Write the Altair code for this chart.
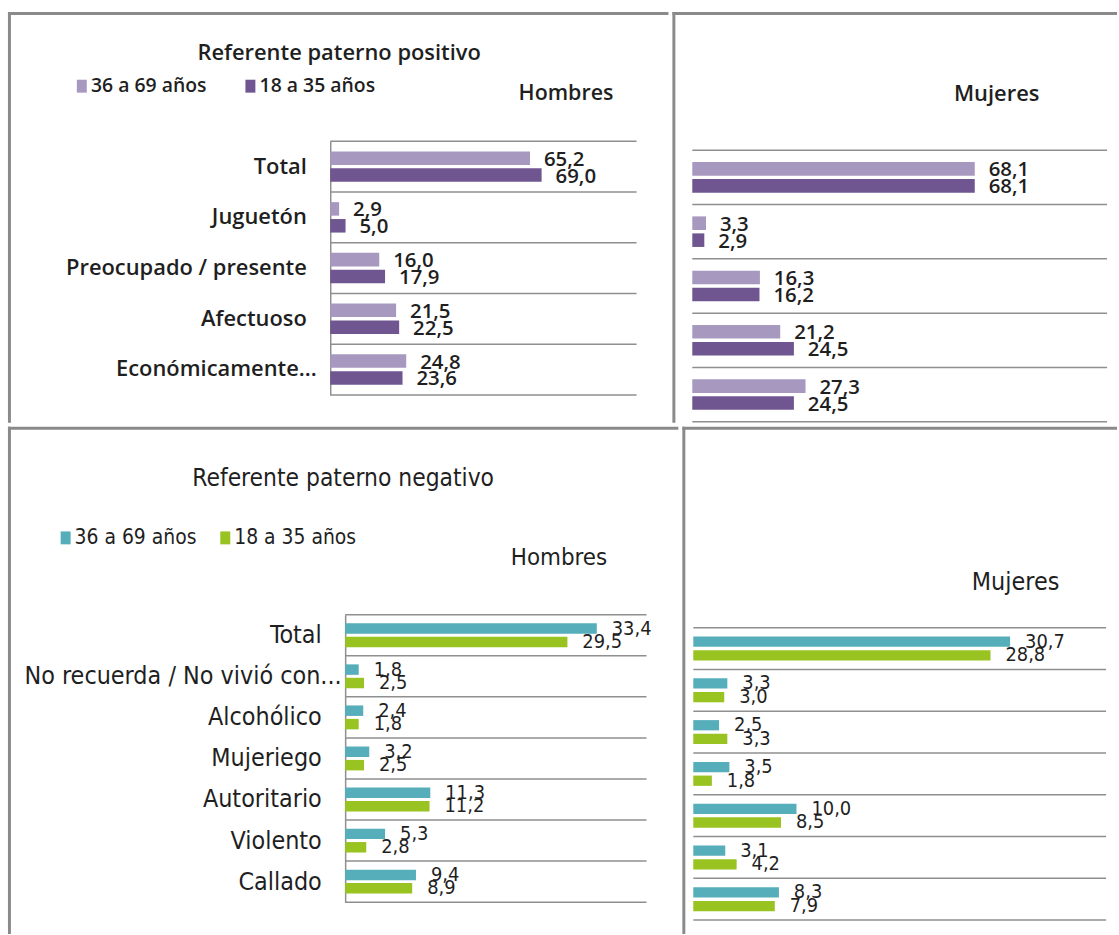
import altair as alt
import pandas as pd

# Age groups and categories
age_groups = ["36 a 69 años", "18 a 35 años"]
pos_categories = ["Total", "Juguetón", "Preocupado / presente", "Afectuoso", "Económicamente..."]
neg_categories = ["Total", "No recuerda / No vivió con...", "Alcohólico", "Mujeriego",
                  "Autoritario", "Violento", "Callado"]

# Positive paternal reference (%)
pos_hombres_36_69 = [65.2, 2.9, 16.0, 21.5, 24.8]
pos_hombres_18_35 = [69.0, 5.0, 17.9, 22.5, 23.6]
pos_mujeres_36_69 = [68.1, 3.3, 16.3, 21.2, 27.3]
pos_mujeres_18_35 = [68.1, 2.9, 16.2, 24.5, 24.5]

# Negative paternal reference (%)
neg_hombres_36_69 = [33.4, 1.8, 2.4, 3.2, 11.3, 5.3, 9.4]
neg_hombres_18_35 = [29.5, 2.5, 1.8, 2.5, 11.2, 2.8, 8.9]
neg_mujeres_36_69 = [30.7, 3.3, 2.5, 3.5, 10.0, 3.1, 8.3]
neg_mujeres_18_35 = [28.8, 3.0, 3.3, 1.8, 8.5, 4.2, 7.9]

purple_colors = ["#A798C0", "#6F5690"]
teal_green_colors = ["#56AEBA", "#98C320"]

FONT_POS = "Open Sans"
FONT_NEG = "DejaVu Sans Condensed"
INK = "#1f1f1f"
LINE = "#8f8f8f"
FRAME = "#8a8a8a"


def frame(cats, older, younger):
    df = pd.DataFrame({
        "categoria": cats + cats,
        "edad": [age_groups[0]] * len(cats) + [age_groups[1]] * len(cats),
        "valor": older + younger,
    })
    df["etiqueta"] = [f"{v:.1f}".replace(".", ",") for v in df["valor"]]
    return df


def note(text, x, y, font, size, weight):
    return alt.Chart(pd.DataFrame({"t": [text]})).mark_text(
        font=font, fontSize=size, fontWeight=weight, color=INK,
        align="center", baseline="middle",
    ).encode(text="t:N", x=alt.value(x), y=alt.value(y))


def border(sides, width, height):
    # box edges, kept just inside the panel so they do not grow its bounds
    one = pd.DataFrame({"k": [0]})
    inset = 1.5
    segs = {
        "top": dict(x=alt.value(0), x2=alt.value(width), y=alt.value(inset)),
        "left": dict(y=alt.value(0), y2=alt.value(height), x=alt.value(inset)),
        "right": dict(y=alt.value(0), y2=alt.value(height), x=alt.value(width - inset)),
    }
    return [alt.Chart(one).mark_rule(color=FRAME, strokeWidth=3).encode(**segs[s])
            for s in sides]


def panel(cats, older, younger, colors, xmax, x_range, y_range, width, height,
          pad_in, pad_out, font, weight, label_size, value_size, value_dx, value_dy,
          sides, show_axis=False, label_padding=24, long_label_padding=None,
          legend=None, notes=()):
    df = frame(cats, older, younger)
    yscale = alt.Scale(domain=cats, range=y_range, paddingInner=0, paddingOuter=0)
    xscale = alt.Scale(domain=[0, xmax], range=x_range, nice=False, zero=True)
    if show_axis:
        # the truncated (longest) label sits closer to the axis line
        padding = {"condition": {"test": f"datum.value === '{cats[long_label_padding[0]]}'",
                                 "value": long_label_padding[1]},
                   "value": label_padding}
        yaxis = alt.Axis(title=None, ticks=False, grid=False, domain=True,
                         domainColor=LINE, domainWidth=1.5,
                         labelFont=font, labelFontSize=label_size,
                         labelFontWeight=weight, labelColor=INK,
                         labelPadding=padding, labelLimit=600,
                         offset=-x_range[0])
    else:
        yaxis = None

    def y_enc(**kw):
        return alt.Y("categoria:N", scale=yscale, axis=yaxis, **kw)

    yoff = alt.YOffset("edad:N", sort=age_groups,
                       scale=alt.Scale(domain=age_groups, paddingInner=pad_in,
                                       paddingOuter=pad_out))
    color = alt.Color("edad:N", scale=alt.Scale(domain=age_groups, range=colors),
                      legend=legend)
    xv = alt.X("valor:Q", scale=xscale, axis=None)

    grid_top = alt.Chart(pd.DataFrame({"categoria": cats})).mark_rule(
        color=LINE, strokeWidth=1.5
    ).encode(
        y=y_enc(bandPosition=0),
        x=alt.X(datum=0, scale=xscale, axis=None),
        x2=alt.X2(datum=xmax),
    )
    grid_bottom = alt.Chart(pd.DataFrame({"categoria": [cats[-1]]})).mark_rule(
        color=LINE, strokeWidth=1.5
    ).encode(
        y=y_enc(bandPosition=1),
        x=alt.X(datum=0, scale=xscale, axis=None),
        x2=alt.X2(datum=xmax),
    )
    bars = alt.Chart(df).mark_bar().encode(x=xv, y=y_enc(), yOffset=yoff, color=color)
    values = alt.Chart(df).mark_text(
        align="left", baseline="middle", dx=value_dx, dy=value_dy, font=font,
        fontSize=value_size, fontWeight=weight, color=INK,
    ).encode(x=xv, y=y_enc(), yOffset=yoff, text="etiqueta:N")

    layers = ([grid_top, grid_bottom, bars, values]
              + [note(*n) for n in notes]
              + border(sides, width, height))
    return alt.layer(*layers).properties(width=width, height=height)


def legend_at(x, y, font, size, weight, gap, offset):
    # small upright swatch sitting at the right of its symbol slot
    return alt.Legend(orient="none", legendX=x, legendY=y, direction="horizontal",
                      title=None, symbolType="M-0.54,-1H1V1H-0.54Z",
                      symbolSize=169, symbolStrokeWidth=0, labelFont=font,
                      labelFontSize=size, labelFontWeight=weight, labelColor=INK,
                      labelOffset=offset, columnPadding=gap, padding=0)


top_left = panel(
    pos_categories, pos_hombres_36_69, pos_hombres_18_35, purple_colors,
    100, [324, 632], [130, 385], 664, 413, 0.2, 0.6, FONT_POS, 600, 22, 20.5, 14, 1.5,
    sides=["top", "left"], show_axis=True, label_padding=24,
    long_label_padding=(4, 14),
    legend=legend_at(63, 64.5, FONT_POS, 19.5, 600, 32.5, 1),
    notes=[("Referente paterno positivo", 333, 41, FONT_POS, 22, 600),
           ("Hombres", 561, 82.5, FONT_POS, 21.5, 600)],
)
top_right = panel(
    pos_categories, pos_mujeres_36_69, pos_mujeres_18_35, purple_colors,
    100, [20, 437], [139, 412], 447, 413, 0.2, 0.7, FONT_POS, 600, 22, 20.5, 14, 1.5,
    sides=["top", "left"],
    notes=[("Mujeres", 326, 82.5, FONT_POS, 22, 600)],
)
bottom_left = panel(
    neg_categories, neg_hombres_36_69, neg_hombres_18_35, teal_green_colors,
    40, [339, 642], [189, 478], 674, 510, 0.22, 0.64, FONT_NEG, 400, 25, 20, 15, 0,
    sides=["top", "left"], show_axis=True, label_padding=24,
    long_label_padding=(1, 4),
    legend=legend_at(46, 101, FONT_NEG, 21, 400, 16.5, 0),
    notes=[("Referente paterno negativo", 337, 53, FONT_NEG, 24.5, 400),
           ("Hombres", 554, 132, FONT_NEG, 24, 400)],
)
bottom_right = panel(
    neg_categories, neg_mujeres_36_69, neg_mujeres_18_35, teal_green_colors,
    40, [11, 426], [202, 496], 437, 510, 0.25, 0.65, FONT_NEG, 400, 25, 20, 15, 0,
    sides=["top", "left"],
    notes=[("Mujeres", 335, 156, FONT_NEG, 25, 400)],
)

independent = dict(color="independent", x="independent", y="independent",
                   yOffset="independent")

top_row = alt.hconcat(top_left, top_right, spacing=0).resolve_scale(**independent) \
    .resolve_legend(color="independent")
bottom_row = alt.hconcat(bottom_left, bottom_right, spacing=0).resolve_scale(**independent) \
    .resolve_legend(color="independent")

chart = alt.vconcat(top_row, bottom_row, spacing=0).resolve_scale(**independent) \
    .resolve_legend(color="independent").properties(
        padding={"left": 6, "top": 7.5, "right": 0, "bottom": 0},
        background="white",
    ).configure_view(stroke=None)

chart.save("out.html", embed_options={"renderer": "svg", "actions": False})
